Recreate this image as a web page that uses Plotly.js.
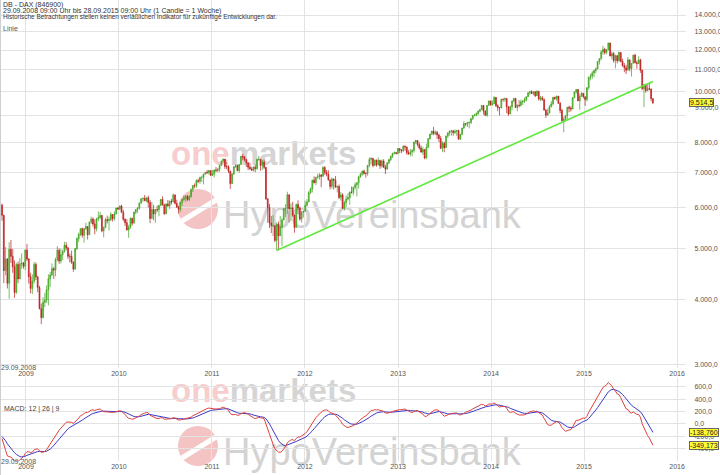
<!DOCTYPE html>
<html><head><meta charset="utf-8">
<script src="https://cdn.plot.ly/plotly-3.0.1.min.js"></script>
<style>html,body{margin:0;padding:0;background:#fff;}#chart{width:720px;height:475px;}</style>
</head><body><div id="chart"></div>
<script>
// ---------- DATA ----------
const firstWeek = '2008-09-29';           // Monday of first weekly candle
// weekly closes before the chart start (only used to warm up the MACD)
const warmupCloses = [7960,7979,7750,7890,7810,7640,7700,7560,7870,8010,7880,7990,8067,7808,7665,7314,6816,6880,6767,6967,6832,6748,6514,6404,6240,6528,6778,6605,6740,6879,7046,6904,7083,6976,7096,6829,6596,6520,6448,6335,6346,6415,6387,6540,6628,6532,6332,6422,6197,6209,6189,6063];

const close2008 = [5797,4544,4781,4296,4988,4837,4620,4127,4669,4381,4683,4697,4630,4973];
const high2008  = [6100,5810,5040,4800,5150,5200,5000,4750,4700,4730,4800,4900,4720,4990];
const low2008   = [5660,4300,4450,4200,4014,4700,4500,4030,4100,4300,4380,4580,4580,4550];

const close2009 = [4783,4423,4199,4338,4668,4418,4216,3844,3695,3953,3990,4176,4384,4456,4583,4554,4770,4969,4738,4875,4941,5078,5027,4839,4838,4718,4576,5004,5229,5332,5465,5310,5462,5518,5319,5624,5703,5581,5467,5711,5743,5794,5414,5489,5687,5663,5686,5817,5709,5831,5985,5957];
const high2009  = [5110,4800,4500,4470,4720,4710,4440,4250,3930,4040,4120,4260,4470,4520,4690,4620,4810,5060,5010,5000,4980,5160,5150,5030,4900,4960,4730,5020,5260,5370,5480,5490,5480,5610,5520,5640,5760,5740,5690,5730,5890,5890,5800,5520,5730,5790,5760,5880,5810,5900,5990,6010];
const low2009   = [4740,4290,4110,4100,4290,4360,4130,3830,3588,3680,3870,3940,3900,4230,4440,4380,4430,4730,4680,4690,4760,4920,4970,4780,4710,4680,4520,4560,4980,5150,5290,5250,5140,5440,5210,5330,5580,5520,5330,5400,5650,5700,5380,5260,5480,5590,5420,5650,5640,5670,5820,5940];

const close2010 = [6037,5875,5696,5608,5434,5500,5722,5598,5877,5945,5982,6120,6235,6250,6180,6259,6135,5716,5946,5830,5946,5939,6049,6216,6070,5834,6093,6040,6170,6148,6336,6110,6006,5951,6137,6215,6257,6299,6211,6292,6493,6606,6601,6754,6731,6848,6850,6947,7007,6998,7057,6914];
const high2010  = [6050,6070,5940,5720,5700,5560,5740,5730,5890,5960,6010,6130,6240,6260,6340,6270,6320,6200,6150,6070,5960,6050,6070,6230,6300,6100,6110,6200,6180,6230,6380,6360,6210,6040,6150,6240,6330,6330,6340,6330,6520,6620,6670,6790,6810,6870,6900,6960,7010,7080,7080,7060];
const low2010   = [5930,5860,5650,5530,5420,5250,5460,5540,5600,5820,5850,5940,6100,6150,6170,6140,6000,5600,5800,5670,5610,5880,5770,6040,6050,5810,5840,6020,5960,6080,6150,6080,6000,5840,5880,6050,6180,6150,6180,6170,6270,6420,6530,6540,6680,6660,6710,6640,6940,6950,6930,6890];

const close2011 = [6947,7076,7062,7102,7216,7363,7426,7185,7178,7044,6664,6946,7179,7217,7056,7250,7514,7492,7414,7303,7165,7109,7070,7164,7121,7419,7419,7220,7326,7158,6236,5998,5603,5537,5538,5190,5574,5296,5502,5676,5967,5970,6346,5966,5986,5800,5492,6080,5986,5701,5878,5898];
const high2011  = [7080,7090,7170,7140,7250,7370,7440,7400,7330,7220,7020,6980,7200,7250,7250,7260,7530,7600,7520,7390,7330,7300,7180,7190,7250,7430,7530,7370,7400,7410,7130,6240,6100,5780,5800,5480,5610,5640,5780,5730,5990,6090,6430,6330,6110,6150,5800,6100,6190,6020,5910,5920];
const low2011   = [6890,6850,7010,7000,7020,7220,7300,7110,7100,6980,6510,6690,6930,7130,7040,6990,7270,7380,7350,7170,7070,7090,7050,7030,7010,7080,7370,7050,7080,7100,6200,5610,5480,5360,5500,5150,4965,4970,5300,5060,5690,5750,5830,5610,5650,5760,5370,5500,5820,5660,5610,5740];

const close2012 = [6057,6143,6404,6511,6766,6692,6849,6864,6921,6880,7157,6996,6947,6775,6583,6801,6762,6561,6579,6271,6339,5978,6130,6229,6263,6416,6410,6557,6630,6690,6865,6944,7041,6972,6970,7214,7412,7451,7216,7398,7233,7380,7203,7363,7163,7101,7309,7405,7518,7614,7636,7612,7776];
const high2012  = [6180,6220,6450,6550,6780,6880,6870,6960,6980,6950,7190,7190,7080,7070,6780,6850,6810,6890,6610,6640,6420,6390,6180,6330,6390,6440,6580,6570,6700,6700,6900,6990,7060,7090,7000,7240,7480,7480,7430,7400,7380,7480,7400,7410,7420,7240,7310,7440,7540,7630,7680,7660,7790];
const low2012   = [5900,6020,6150,6370,6410,6670,6620,6810,6780,6560,6880,6920,6880,6750,6500,6520,6490,6550,6410,6220,6180,5970,5920,6010,6190,6070,6380,6330,6490,6300,6520,6840,6900,6930,6840,6900,7160,7260,7160,7220,7180,7250,7110,7150,7140,6950,7100,7260,7360,7460,7580,7580,7580];

const close2013 = [7715,7702,7860,7833,7634,7593,7662,7708,8004,8058,7913,7795,7658,7745,7459,7814,8122,8278,8399,8305,8349,8254,8127,7789,7959,7806,8212,8331,8403,8410,8338,8392,8416,8103,8276,8510,8676,8661,8725,8725,8868,9001,9009,9078,9168,9225,9405,9172,9006,9400,9589,9435];
const high2013  = [7760,7760,7880,7880,7830,7730,7760,7760,8010,8080,8060,7990,7880,7840,7760,7950,8130,8310,8400,8560,8420,8410,8300,8220,8030,8010,8240,8360,8420,8440,8420,8460,8430,8450,8300,8520,8770,8700,8740,8760,8900,9010,9050,9110,9200,9260,9410,9410,9200,9410,9600,9600];
const low2013   = [7620,7620,7660,7700,7560,7570,7520,7510,7640,7930,7850,7740,7630,7560,7420,7440,7800,8090,8260,8250,8250,8110,8000,7760,7660,7650,7800,8150,8230,8230,8230,8300,8220,8100,8080,8270,8480,8580,8550,8500,8660,8820,8960,8970,9000,9120,9220,9030,8970,8940,9400,9390];

const close2014 = [9473,9742,9392,9306,9301,9663,9657,9692,9350,9056,9342,9588,9695,9315,9409,9401,9556,9581,9630,9768,9943,9987,9912,9987,9815,10009,9667,9720,9644,9210,9010,9092,9339,9470,9747,9691,9799,9490,9195,8788,8850,8988,9326,9291,9252,9732,9980,10087,9594,9787,9923,9765];
const high2014  = [9620,9790,9750,9450,9330,9680,9690,9730,9710,9370,9400,9600,9720,9720,9440,9620,9640,9620,9740,9780,9960,10030,10050,10000,10000,10050,10000,9800,9800,9700,9250,9280,9420,9590,9760,9760,9810,9780,9540,9260,8950,9010,9340,9400,9370,9740,9990,10090,10060,9900,9960,9900];
const low2014   = [9390,9460,9340,9170,8990,9280,9560,9560,9090,8980,9080,9200,9530,9310,9160,9320,9360,9420,9500,9570,9780,9850,9880,9830,9750,9800,9600,9580,9600,9200,8900,8990,9100,9350,9410,9630,9590,9460,9080,8760,8355,8800,8820,9130,9150,9260,9700,9900,9580,9220,9790,9700];

const close2015 = [9648,10167,10649,10694,10846,10963,11050,11402,11551,11901,12040,11868,12002,12375,11689,11811,11454,11709,11447,11865,11413,11197,11100,10978,11492,11059,11316,11735,11347,11308,11490,10985,10124,10298,10038,10123,10104,9688,9514.5];
const high2015  = [9780,10180,10660,10810,10930,10990,11110,11420,11560,11990,12220,12120,12050,12390,12390,11920,11900,11750,11640,11920,11880,11550,11330,11240,11630,11260,11330,11740,11800,11450,11670,11550,11000,10330,10340,10330,10390,10130,9640];
const low2015   = [9380,9570,10070,10500,10560,10650,10830,11030,11260,11500,11750,11760,11780,11990,11670,11520,11350,11070,11310,11400,11360,11150,10880,10790,11150,10930,10680,11400,11320,11050,11270,10850,10060,9338,9940,10010,10050,9580,9460];

// support (trend) line drawn on the chart
const trendDates  = ['2011-09-12','2015-09-28'];
const trendValues = [4965, 10450];

// axis ticks
const yearTicks   = ['2009','2010','2011','2012','2013','2014','2015','2016'];
const priceTicks  = [3000,4000,5000,6000,7000,8000,9000,10000,11000,12000,13000,14000];
const shiftedPriceTick = 9000;        // its label sits just under the last-price box
const macdTicks   = [-600,-400,-200,0,200,400,600];
const macdLabelValues = {macd: -349.173, signal: -138.760};   // values shown in the yellow boxes

// ---------- BUILD ----------
const close = [].concat(close2008,close2009,close2010,close2011,close2012,close2013,close2014,close2015);
const high  = [].concat(high2008,high2009,high2010,high2011,high2012,high2013,high2014,high2015);
const low   = [].concat(low2008,low2009,low2010,low2011,low2012,low2013,low2014,low2015);
const dates = close.map((_, i) => { const d = new Date(firstWeek + 'T00:00:00Z'); d.setUTCDate(d.getUTCDate() + 7*i); return d.toISOString().slice(0,10); });
const open  = close.map((c, i) => i === 0 ? warmupCloses[warmupCloses.length-1] : close[i-1]);
const hi = high.map((h, i) => Math.max(h, open[i], close[i]));
const lo = low.map((l, i) => Math.min(l, open[i], close[i]));

function ema(arr, n){ const k = 2/(n+1); const out = []; let p = arr[0]; arr.forEach((v,i)=>{ p = i===0 ? v : v*k + p*(1-k); out.push(p); }); return out; }
const allC = warmupCloses.concat(close);
const e12 = ema(allC, 12), e26 = ema(allC, 26);
const macdAll = e12.map((v,i)=>v-e26[i]);
const sigAll = ema(macdAll, 9);
const macd = macdAll.slice(warmupCloses.length), signal = sigAll.slice(warmupCloses.length);

function de(v, d){ const s = Math.abs(v).toFixed(d); let [ip, fp] = s.split('.'); ip = ip.replace(/\B(?=(\d{3})+(?!\d))/g, '.'); return (v<0?'-':'') + ip + (fp ? ',' + fp : ''); }

// ---------- LAYOUT HELPERS ----------
const H = 475, PW = 686;
const px = x => x / PW, py = y => (H - y) / H;
const FONT = 'Liberation Sans, Arial, sans-serif';
const GRID = '#e3e3e3';

const traces = [
  {type:'candlestick', x:dates, open:open, high:hi, low:lo, close:close, xaxis:'x', yaxis:'y',
   increasing:{line:{color:'#3f9f22', width:0.7}, fillcolor:'#5cc52e'},
   decreasing:{line:{color:'#b81c1c', width:0.7}, fillcolor:'#d42626'},
   whiskerwidth:0, width:4*86400000, hoverinfo:'skip', showlegend:false},
  {type:'scatter', mode:'lines', x:trendDates, y:trendValues, xaxis:'x', yaxis:'y',
   line:{color:'#5fe83c', width:1.6}, hoverinfo:'skip', showlegend:false},
  {type:'scatter', mode:'lines', x:dates, y:signal, xaxis:'x2', yaxis:'y2',
   line:{color:'#3a3acb', width:1}, hoverinfo:'skip', showlegend:false},
  {type:'scatter', mode:'lines', x:dates, y:macd, xaxis:'x2', yaxis:'y2',
   line:{color:'#e0403c', width:1}, hoverinfo:'skip', showlegend:false}
];

const xRange = ['2008-09-21','2016-02-05'];
const yearVals = yearTicks.map(y => y + '-01-01');
const xCommon = {type:'date', range:xRange, tickvals:yearVals, ticktext:yearTicks, showgrid:true, gridcolor:GRID, gridwidth:1,
  zeroline:false, showline:false, ticks:'', tickfont:{family:FONT, size:7, color:'#555'}, fixedrange:true};

function note(text, x, y, opts){ return Object.assign({text, xref:'paper', yref:'paper', x:px(x), y:py(y), xanchor:'left', yanchor:'middle', showarrow:false,
  font:{family:FONT, size:7, color:'#333'}, borderpad:0}, opts||{}); }
const boxStyle = {xanchor:'left', yanchor:'middle', showarrow:false, bgcolor:'#ffff33', bordercolor:'#666', borderwidth:1, borderpad:0,
  font:{family:FONT, size:7, color:'#222'}};

const annotations = [
  note('DB - DAX (846900)', 2, 5),
  note('29.09.2008 09:00 Uhr bis 28.09.2015 09:00 Uhr (1 Candle = 1 Woche)', 2, 11),
  note('Historische Betrachtungen stellen keinen verläßlichen Indikator für zukünftige Entwicklungen dar.', 2, 17, {font:{family:FONT, size:6.4, color:'#333'}}),
  note('Linie', 2, 28, {font:{family:FONT, size:7, color:'#555'}}),
  note('29.09.2008', 0, 367, {font:{family:FONT, size:7, color:'#555'}}),
  note('29.09.2008', 0, 461, {font:{family:FONT, size:7, color:'#555'}}),
  note('MACD: 12 | 26 | 9', 3, 409, {font:{family:FONT, size:7, color:'#444'}}),
  note(de(shiftedPriceTick, 1), 694, 108, {font:{family:FONT, size:7, color:'#555'}}),
  Object.assign({text: de(close[close.length-1], 1), xref:'paper', x:px(689), yref:'y', y:Math.log10(close[close.length-1])}, boxStyle),
  Object.assign({text: de(macdLabelValues.signal, 3), xref:'paper', x:px(689), yref:'y2', y:macdLabelValues.signal}, boxStyle),
  Object.assign({text: de(macdLabelValues.macd, 3), xref:'paper', x:px(689), yref:'y2', y:macdLabelValues.macd}, boxStyle)
];

// watermark (drawn below the data)
function wm(text, x0, x1, yc, size, color, weight){
  return {type:'rect', xref:'paper', yref:'paper', x0:px(x0), x1:px(x1), y0:py(yc+25), y1:py(yc-25), layer:'below',
    line:{width:0}, fillcolor:'rgba(0,0,0,0)',
    label:{text, textposition:'middle left', padding:0, font:{size, color, family: FONT, weight: weight || 'normal'}}};
}
function logo(cx, cy){
  return [
    {type:'circle', xref:'paper', yref:'paper', x0:px(cx-20), x1:px(cx+20), y0:py(cy+20), y1:py(cy-20), layer:'below', line:{width:0}, fillcolor:'#f4c3c3'},
    {type:'line', xref:'paper', yref:'paper', x0:px(cx-16), x1:px(cx+18), y0:py(cy+12), y1:py(cy-9), layer:'below', line:{width:5, color:'#ffffff'}}
  ];
}
const ONEMARKETS = '<span style="color:#f7cdcd">one</span>markets';
const shapes = [].concat(
  logo(198, 209),
  [wm(ONEMARKETS, 168, 380, 150, 33, '#d5d5d5', 'bold'),
   wm('HypoVereinsbank', 220, 530, 211, 38, '#d3d3d3')],
  logo(198, 446),
  [wm(ONEMARKETS, 168, 380, 387, 33, '#d5d5d5', 'bold'),
   wm('HypoVereinsbank', 220, 530, 448, 38, '#d3d3d3')],
  [{type:'line', xref:'paper', yref:'paper', x0:px(0.5), x1:px(0.5), y0:0, y1:1, line:{color:'#cfcfcf', width:1}, layer:'above'}]
);

const layout = {
  width:720, height:475, margin:{l:0, r:34, t:0, b:0}, paper_bgcolor:'#ffffff', plot_bgcolor:'rgba(0,0,0,0)',
  font:{family:FONT, size:7, color:'#555'}, showlegend:false, dragmode:false,
  xaxis: Object.assign({}, xCommon, {anchor:'y', domain:[0,1], rangeslider:{visible:false}}),
  yaxis: {type:'log', domain:[107/H, 1], range:[3.471176, 4.174809], side:'right', anchor:'x',
    tickvals:priceTicks, ticktext:priceTicks.map(v => v === shiftedPriceTick ? '' : de(v,1)), showgrid:true, gridcolor:GRID, zeroline:false, showline:false,
    ticks:'outside', ticklen:6, tickcolor:'rgba(0,0,0,0)', tickfont:{family:FONT, size:7, color:'#555'}, fixedrange:true},
  xaxis2: Object.assign({}, xCommon, {anchor:'y2', domain:[0,1]}),
  yaxis2: {domain:[14/H, 97/H], range:[-597, 742], side:'right', anchor:'x2',
    tickvals:macdTicks, ticktext:macdTicks.map(v=>de(v,1)), showgrid:true, gridcolor:GRID, zeroline:false, showline:false,
    ticks:'outside', ticklen:6, tickcolor:'rgba(0,0,0,0)', tickfont:{family:FONT, size:7, color:'#555'}, fixedrange:true},
  annotations, shapes
};

Plotly.newPlot('chart', traces, layout, {staticPlot:true, displayModeBar:false});
</script>
</body></html>
